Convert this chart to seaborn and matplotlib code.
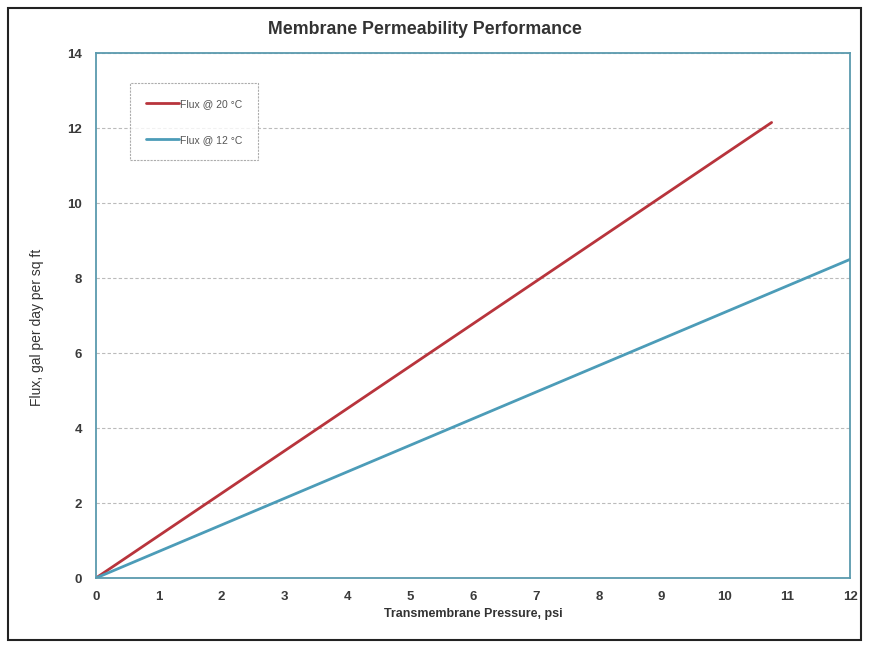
import numpy as np
import pandas as pd
import matplotlib
matplotlib.use('Agg')
import matplotlib.pyplot as plt
import seaborn as sns

# values
pressure_20 = [0, 10.75]
flux_20 = [0, 12.15]
pressure_12 = [0, 12.0]
flux_12 = [0, 8.5]
series_names = ['Flux @ 20 °C', 'Flux @ 12 °C']
line_colors = ['#b8343c', '#4c9cb8']

df = pd.concat([
    pd.DataFrame({'pressure': pressure_20, 'flux': flux_20, 'series': series_names[0]}),
    pd.DataFrame({'pressure': pressure_12, 'flux': flux_12, 'series': series_names[1]}),
])

sns.set_theme(style='white')
plt.rcParams['font.family'] = ['Liberation Sans', 'DejaVu Sans']

fig = plt.figure(figsize=(8.78, 6.48), dpi=100)
ax = fig.add_axes([0.1093, 0.108, 0.859, 0.810])

sns.lineplot(data=df, x='pressure', y='flux', hue='series', palette=line_colors,
             linewidth=2, ax=ax, estimator=None, sort=False)

ax.set_xlim(0, 12)
ax.set_ylim(0, 14)
ax.set_xticks(range(0, 13))
ax.set_yticks(range(0, 15, 2))
ax.tick_params(axis='x', length=0, labelsize=9.5, pad=9)
ax.tick_params(axis='y', length=0, labelsize=9.5, pad=10)
for lab in ax.get_xticklabels() + ax.get_yticklabels():
    lab.set_fontweight('bold')
    lab.set_color('#3a3a3a')

ax.yaxis.grid(True, linestyle=(0, (3, 2)), color='#bbbbbb', linewidth=0.8)
for s in ax.spines.values():
    s.set_color('#5a9aae')
    s.set_linewidth(1.3)

ax.set_xlabel('Transmembrane Pressure, psi', fontsize=9, fontweight='bold', color='#333333', labelpad=4)
ax.set_ylabel('Flux, gal per day per sq ft', fontsize=10, color='#333333')
ax.yaxis.set_label_coords(-0.069, 0.478)
fig.text(0.484, 0.954, 'Membrane Permeability Performance', ha='center', va='center',
         fontsize=12.8, fontweight='bold', color='#333333')

leg = ax.legend(loc='upper left', bbox_to_anchor=(0.045, 0.943), borderaxespad=0, frameon=True,
                handlelength=3.2, handletextpad=0.1, labelspacing=2.5,
                borderpad=1.5, fancybox=False, prop={'size': 7.5})
leg.get_frame().set_edgecolor('#999999')
leg.get_frame().set_linestyle((0, (2, 1)))
leg.get_frame().set_linewidth(0.8)
for t in leg.get_texts():
    t.set_color('#555555')

# outer page frame
fig.patches.append(plt.Rectangle((0.009, 0.012), 0.972, 0.976, transform=fig.transFigure,
                                 fill=False, edgecolor='#222222', linewidth=1.5))

fig.savefig('out.png', dpi=100)
